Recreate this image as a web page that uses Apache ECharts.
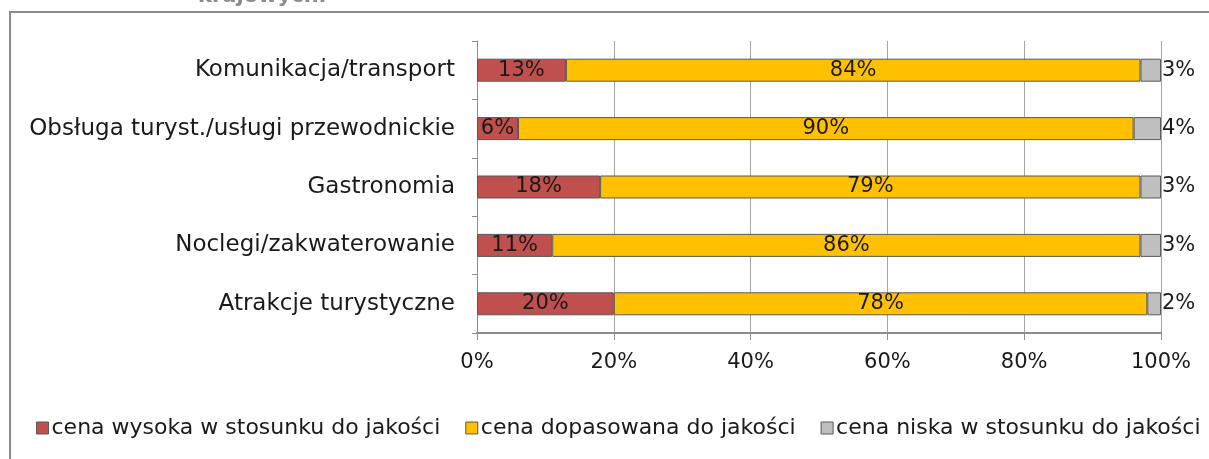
<!DOCTYPE html>
<html>
<head>
<meta charset="utf-8">
<script src="https://cdn.jsdelivr.net/npm/echarts@6/dist/echarts.min.js"></script>
<style>
  html, body { margin: 0; padding: 0; background: #fff; }
  #chart { width: 1209px; height: 459px; }
</style>
</head>
<body>
<div id="chart"></div>
<script>
// Ocena relacji ceny do jakości usług turystycznych (udział odpowiedzi, %)
const categories = [
  'Komunikacja/transport',
  'Obsługa turyst./usługi przewodnickie',
  'Gastronomia',
  'Noclegi/zakwaterowanie',
  'Atrakcje turystyczne'
];
const seriesNames = [
  'cena wysoka w stosunku do jakości',
  'cena dopasowana do jakości',
  'cena niska w stosunku do jakości'
];
const highPrice = [13, 6, 18, 11, 20];
const fairPrice = [84, 90, 79, 86, 78];
const lowPrice = [3, 4, 3, 3, 2];
const xTicks = [0, 20, 40, 60, 80, 100];

const FONT = 'DejaVu Sans';
const colors = ['#C0504D', '#FFC000', '#BFBFBF'];

const chart = echarts.init(document.getElementById('chart'), null, { renderer: 'canvas' });

function barSeries(name, data, color, labelPos) {
  return {
    name: name,
    type: 'bar',
    stack: 'total',
    data: data,
    barWidth: 23,
    itemStyle: { color: color, borderColor: '#595959', borderWidth: 1 },
    label: {
      show: true,
      position: labelPos,
      distance: 1,
      formatter: '{c}%',
      color: '#1a1a1a',
      fontFamily: FONT,
      fontSize: 21
    },
    emphasis: { disabled: true }
  };
}

chart.setOption({
  animation: false,
  textStyle: { fontFamily: FONT },
  graphic: [
    {
      type: 'rect',
      shape: { x: 10, y: 12, width: 1260, height: 500 },
      style: { fill: 'none', stroke: '#8c8c8c', lineWidth: 2 },
      z: -1
    },
    {
      type: 'text',
      left: 198,
      top: -14,
      style: { text: 'krajowych.', fill: '#8c8c8c', font: 'bold 21px "' + FONT + '"' }
    }
  ],
  legend: {
    bottom: 20,
    left: 36,
    width: 1250,
    padding: 0,
    itemWidth: 12,
    itemHeight: 12,
    itemGap: 25,
    icon: 'rect',
    textStyle: { fontFamily: FONT, fontSize: 22, color: '#1a1a1a', padding: [0, 0, 0, -2] },
    itemStyle: { borderColor: '#595959', borderWidth: 1 },
    data: seriesNames
  },
  grid: { left: 477, right: 48, top: 41, bottom: 126, containLabel: false },
  xAxis: {
    type: 'value',
    min: xTicks[0],
    max: xTicks[xTicks.length - 1],
    interval: xTicks[1] - xTicks[0],
    axisLine: { show: true, lineStyle: { color: '#8c8c8c', width: 2 } },
    axisTick: { show: true, length: 7, lineStyle: { color: '#8c8c8c', width: 1 } },
    axisLabel: {
      formatter: '{value}%',
      margin: 19,
      color: '#1a1a1a',
      fontFamily: FONT,
      fontSize: 21
    },
    splitLine: { show: true, lineStyle: { color: '#a6a6a6', width: 1 } }
  },
  yAxis: {
    type: 'category',
    inverse: true,
    data: categories,
    axisLine: { show: true, lineStyle: { color: '#8c8c8c', width: 1 } },
    axisTick: { show: true, length: 5, lineStyle: { color: '#8c8c8c' } },
    axisLabel: {
      margin: 22,
      color: '#1a1a1a',
      fontFamily: FONT,
      fontSize: 23
    }
  },
  series: [
    barSeries(seriesNames[0], highPrice, colors[0], 'inside'),
    barSeries(seriesNames[1], fairPrice, colors[1], 'inside'),
    barSeries(seriesNames[2], lowPrice, colors[2], 'right')
  ]
});
</script>
</body>
</html>
